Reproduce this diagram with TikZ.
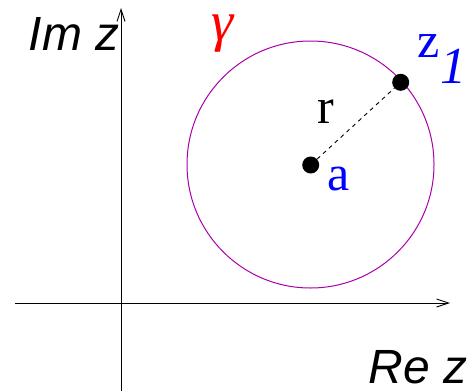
\documentclass[tikz,border=0pt]{standalone}
\usepackage{fontspec}
\setmainfont{Liberation Serif}
\setsansfont{Liberation Sans}
\usetikzlibrary{arrows.meta}
\definecolor{circcol}{RGB}{170,0,170}
\definecolor{labblue}{RGB}{0,0,255}
\definecolor{labred}{RGB}{255,0,0}
\begin{document}
\begin{tikzpicture}[x=1pt,y=-1pt,
  axis/.style={line width=1pt,-{Straight Barb[length=12pt,width=8pt,line width=0.9pt]}},
  dot/.style={circle,fill=black,inner sep=0pt,minimum size=17pt},
  big/.style={inner sep=0pt,font=\fontsize{50}{60}\selectfont},
  axlab/.style={big,font=\fontsize{48}{60}\selectfont\sffamily\itshape}]
\useasboundingbox (0,0) rectangle (476,391);
% axes
\coordinate (xs) at (15,303);
\coordinate (xe) at (450,303);
\coordinate (ys) at (121,391);
\coordinate (ye) at (121,8);
\draw[axis] (xs) -- (xe);
\draw[axis] (ys) -- (ye);
% circle
\coordinate (c) at (310.5,164.5);
\draw[circcol,line width=1pt] (c) circle (123.5);
% points
\node[dot] (a) at (310.7,165) {};
\node[dot] (z1) at (400.7,82.3) {};
\draw[dashed,dash pattern=on 4pt off 4pt,line width=0.9pt] (a) -- (z1);
% labels
\node[axlab,anchor=base] (im) at (74,50) {Im z};
\node[axlab,anchor=base] (re) at (418,383) {Re z};
\node[big,anchor=base] (r) at (326,123) {r};
\node[big,anchor=base,text=labblue] (alab) at (338.5,190) {a};
\node[big,anchor=base,text=labblue] (zlab) at (429,57) {z};
\node[big,anchor=base,text=labblue,font=\fontsize{52}{60}\selectfont\itshape] (one) at (453,83) {1};
\node[big,text=labred,font=\fontsize{56}{60}\selectfont\itshape] (gam) at (223,34) {γ};
\end{tikzpicture}
\end{document}
